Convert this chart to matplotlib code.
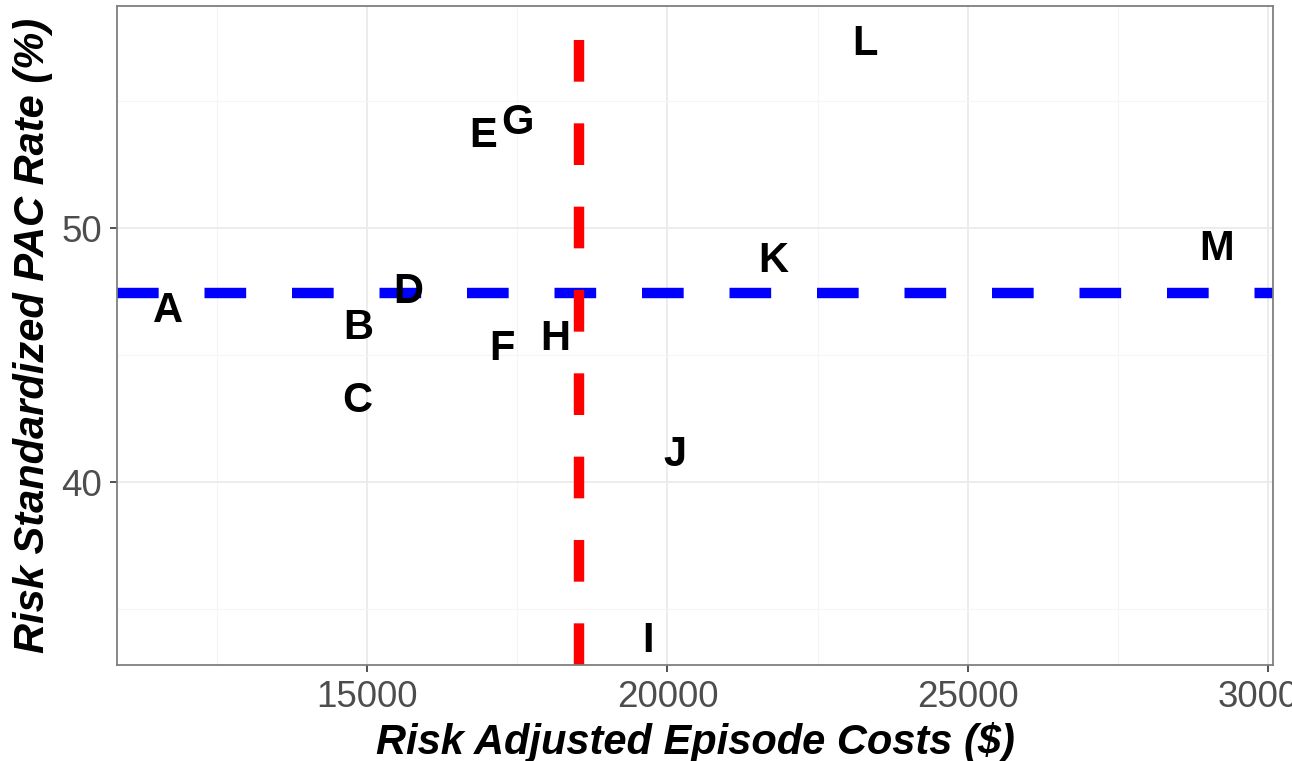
import matplotlib
matplotlib.use("Agg")
import matplotlib.pyplot as plt
import matplotlib.transforms as mtransforms
from matplotlib.ticker import MultipleLocator

plt.rcParams['font.family'] = ['Liberation Sans', 'DejaVu Sans']

labels = ["A", "B", "C", "D", "E", "F", "G", "H", "I", "J", "K", "L", "M"]
costs = [11683, 14850, 14833, 15683, 16933, 17250, 17500, 18133, 19683, 20117, 21767, 23283, 29150]
pac_rate = [46.85, 46.18, 43.31, 47.60, 53.74, 45.35, 54.25, 45.75, 33.86, 41.18, 48.82, 57.36, 49.29]
cost_ref = 18533
rate_ref = 47.44

fig = plt.figure(figsize=(12.92, 7.61), dpi=100)
ax = fig.add_axes([117/1292, 1 - 665/761, (1273-117)/1292, (665-6)/761])

ax.set_xlim(10833, 30083)
ax.set_ylim(32.80, 58.74)

ax.xaxis.set_major_locator(MultipleLocator(5000))
ax.xaxis.set_minor_locator(MultipleLocator(2500))
ax.yaxis.set_major_locator(MultipleLocator(10))
ax.yaxis.set_minor_locator(MultipleLocator(5))

ax.grid(which='major', color='#EBEBEB', linewidth=1.3)
ax.grid(which='minor', color='#F5F5F5', linewidth=0.8)
ax.set_axisbelow(True)

for s in ax.spines.values():
    s.set_color('#7F7F7F')
    s.set_linewidth(1.3)

ax.tick_params(which='major', length=5, width=1.2, color='#333333',
               labelsize=26.5, labelcolor='#4D4D4D')
ax.tick_params(axis='x', which='major', pad=6)
ax.tick_params(axis='y', which='major', pad=6)
ax.tick_params(which='minor', length=0)

ax.axhline(rate_ref, color='#0000FF', linewidth=7.5, linestyle=(0, (4.0, 4.4)), zorder=2)
ax.axvline(cost_ref, color='#FF0000', linewidth=7.5, linestyle=(0, (4.0, 4.0)), zorder=2)

shift = mtransforms.ScaledTranslation(0, -3/100, fig.dpi_scale_trans)
for lab, xv, yv in zip(labels, costs, pac_rate):
    ax.text(xv, yv, lab, ha='center', va='center', fontsize=30, fontweight='bold',
            color='black', zorder=3, transform=ax.transData + shift)

ax.set_xlabel("Risk Adjusted Episode Costs ($)", fontsize=30, fontweight='bold',
              fontstyle='italic', labelpad=5)
ax.set_ylabel("Risk Standardized PAC Rate (%)", fontsize=30, fontweight='bold',
              fontstyle='italic', labelpad=6)

fig.savefig("out.png", dpi=100)
